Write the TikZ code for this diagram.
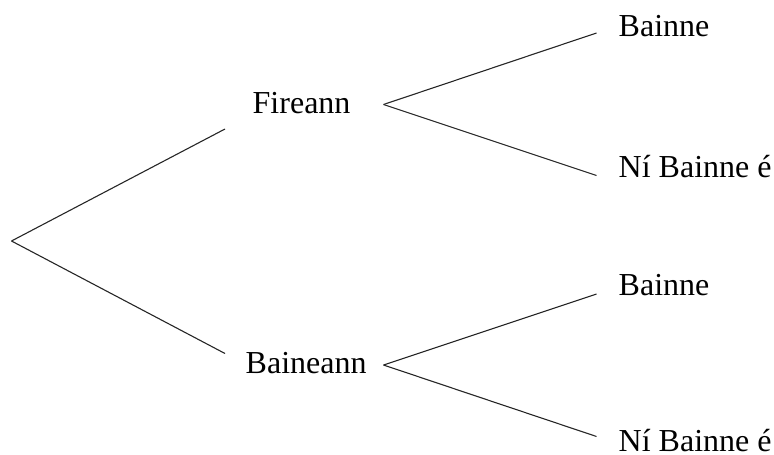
\documentclass[tikz,border=0pt]{standalone}
\usepackage{fontspec}
\setmainfont{Liberation Serif}
\usetikzlibrary{positioning}

\tikzset{
  label text/.style={anchor=base west,inner sep=0pt,font=\fontsize{32}{38}\selectfont},
  branch/.style={draw,line width=1.1pt,black!85}
}

\begin{document}
\begin{tikzpicture}[x=1pt,y=-1pt]
\useasboundingbox (0,0) rectangle (774,455);
% gender level
\coordinate (root) at (11.5,241);
\coordinate (fin) at (225,129);
\coordinate (bin) at (225,353.5);
\node[label text] (fir) at (252.5,113.3) {Fireann};
\node[label text] (bain) at (245.5,373.3) {Baineann};
% milk level
\coordinate (fout) at (383.5,104.5);
\coordinate (bout) at (383.5,365);
\coordinate (f-y) at (596.5,33);
\coordinate (f-n) at (596.5,175.5);
\coordinate (b-y) at (596.5,294);
\coordinate (b-n) at (596.5,436.5);
\node[label text] (fy) at (618.5,36.7) {Bainne};
\node[label text] (fn) at (618.5,177.3) {Ní Bainne é};
\node[label text] (by) at (618.5,295) {Bainne};
\node[label text] (bn) at (618.5,451) {Ní Bainne é};
\path[branch]
  (root) edge (fin)
  (root) edge (bin)
  (fout) edge (f-y)
  (fout) edge (f-n)
  (bout) edge (b-y)
  (bout) edge (b-n);
\end{tikzpicture}
\end{document}
